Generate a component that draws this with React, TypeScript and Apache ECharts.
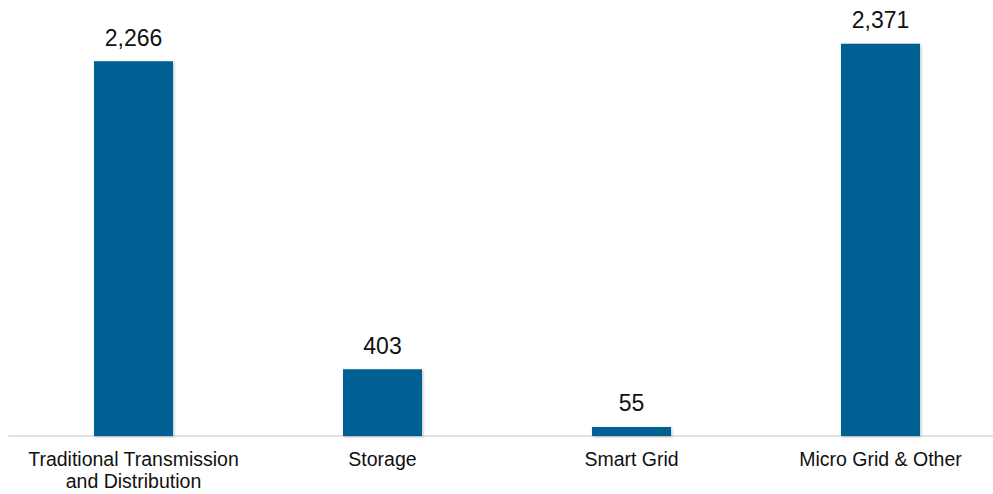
import React, { useEffect, useRef } from "react";
import * as echarts from "echarts";

const categories = [
  "Traditional Transmission\nand Distribution",
  "Storage",
  "Smart Grid",
  "Micro Grid & Other",
];
const values = [2266, 403, 55, 2371];

export default function App() {
  const ref = useRef<HTMLDivElement>(null);
  useEffect(() => {
    if (!ref.current) return;
    const chart = echarts.init(ref.current, null, { renderer: "svg" });
    chart.setOption({
      animation: false,
      grid: { left: 9, right: 0, top: 39, bottom: 58, containLabel: false },
      xAxis: {
        type: "category",
        data: categories,
        axisLine: { show: true, lineStyle: { color: "#d9d9d9", width: 1.5 } },
        axisTick: { show: false },
        axisLabel: {
          color: "#111",
          fontSize: 19.5,
          fontFamily: "Liberation Sans, Arial, sans-serif",
          lineHeight: 22,
          margin: 12,
          interval: 0,
        },
      },
      yAxis: {
        type: "value",
        min: 0,
        max: 2400,
        show: false,
        splitLine: { show: false },
      },
      series: [
        {
          type: "bar",
          data: values,
          barWidth: 79,
          itemStyle: {
            color: "#035e93",
            shadowBlur: 3,
            shadowColor: "rgba(0,0,0,0.25)",
            shadowOffsetX: 1,
            shadowOffsetY: 1,
          },
          label: {
            show: true,
            position: "top",
            distance: 12,
            color: "#111",
            fontSize: 23,
            fontFamily: "Liberation Sans, Arial, sans-serif",
            formatter: (p: any) => Number(p.value).toLocaleString("en-US"),
          },
        },
      ],
    });
    return () => chart.dispose();
  }, []);
  return (
    <div
      style={{ position: "fixed", left: 0, top: 0, width: 993, height: 494, overflow: "hidden", background: "#fff" }}
    >
      <div ref={ref} style={{ width: 1004.5, height: 494 }} />
    </div>
  );
}
